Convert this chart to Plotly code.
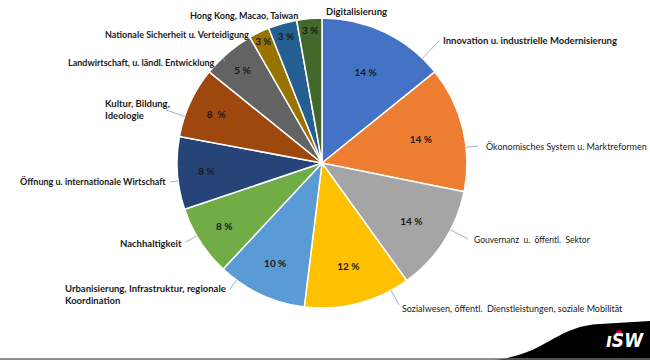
import math
import plotly.graph_objects as go

categories = [
    "Innovation u. industrielle Modernisierung",
    "Ökonomisches System u. Marktreformen",
    "Gouvernanz  u.  öffentl.  Sektor",
    "Sozialwesen, öffentl.  Dienstleistungen, soziale Mobilität",
    "Urbanisierung, Infrastruktur, regionale<br>Koordination",
    "Nachhaltigkeit",
    "Öffnung u. internationale Wirtschaft",
    "Kultur, Bildung,<br>Ideologie",
    "Landwirtschaft, u. ländl. Entwicklung",
    "Nationale Sicherheit u. Verteidigung",
    "Hong Kong, Macao, Taiwan",
    "Digitalisierung",
]
# slice sizes
shares = [14.2, 14.0, 11.9, 11.9, 10.0, 7.9, 8.1, 7.9, 5.9, 2.3, 3.2, 2.8]
# percentage labels as printed on the slices
pct_labels = ["14 %", "14 %", "14 %", "12 %", "10 %", "8 %", "8 %", "8  %", "5 %", "3 %", "3 %", "3 %"]

colors = ["#4472C4", "#ED7D31", "#A5A5A5", "#FFC000", "#5B9BD5", "#70AD47",
          "#264478", "#9E480E", "#636363", "#997300", "#255E91", "#43682B"]

W, H = 650, 360
CX, CY, R = 322, 163, 145

# label placement (pixels): x, y, xanchor, leader end x, leader end y, font size, weight
label_pos = [
    (441, 40, "left", 439, 41, 9.5, "bold"),
    (484, 146, "left", 478, 146, 9, "normal"),
    (472, 240, "left", 468, 239, 8.5, "normal"),
    (400, 308, "left", 399, 305, 9, "normal"),
    (63, 294, "left", 230, 289, 9.5, "bold"),
    (184, 243, "right", 186, 242, 9.5, "bold"),
    (168, 181, "right", 170, 182, 9, "bold"),
    (103, 109, "left", 166, 110, 9.5, "bold"),
    (217, 62, "right", 225, 61, 9, "bold"),
    (251, 34, "right", 258, 33, 9, "bold"),
    (244, 16, "center", 285, 22, 9, "bold"),
    (356, 11, "center", 316, 18, 9.5, "bold"),
]

def px(x):
    return x / W

def py(y):
    return 1 - y / H

fig = go.Figure(go.Pie(
    values=shares,
    labels=categories,
    text=pct_labels,
    texttemplate="%{text}",
    textposition="inside",
    insidetextorientation="horizontal",
    textfont=dict(family="Lato", size=10, color="#1a1a1a", weight="bold"),
    marker=dict(colors=colors, line=dict(color="white", width=1.5)),
    sort=False,
    direction="clockwise",
    rotation=0,
    hoverinfo="skip",
    showlegend=False,
    domain=dict(x=[px(CX - R), px(CX + R)], y=[py(CY + R), py(CY - R)]),
))

shapes = []
annotations = []
for name, (tx, ty, anc, lx, ly, fs, fw) in zip(categories, label_pos):
    dx, dy = lx - CX, ly - CY
    d = math.hypot(dx, dy)
    sx, sy = CX + R * dx / d, CY + R * dy / d
    shapes.append(dict(type="line", xref="paper", yref="paper",
                       x0=px(sx), y0=py(sy), x1=px(lx), y1=py(ly),
                       line=dict(color="#9DB3D6", width=1)))
    annotations.append(dict(text=name, x=px(tx), y=py(ty), xref="paper", yref="paper",
                            xanchor=anc, yanchor="middle", showarrow=False, align="left",
                            font=dict(family="Lato", size=fs, color="#1a1a1a", weight=fw)))

# logo swoosh
shapes.append(dict(type="path", xref="paper", yref="paper",
                   path=f"M {px(492)},{py(360)} C {px(545)},{py(356)} {px(555)},{py(326)} {px(600)},{py(324)} "
                        f"L {px(650)},{py(321)} L {px(650)},{py(360)} Z",
                   fillcolor="black", line=dict(width=0)))
shapes.append(dict(type="line", xref="paper", yref="paper", x0=0, x1=1, y0=py(359), y1=py(359),
                   line=dict(color="#6b6b6b", width=1.5)))
annotations.append(dict(text="<i>ıSW</i>", x=px(646), y=py(353), xref="paper", yref="paper",
                        xanchor="right", yanchor="bottom", showarrow=False,
                        font=dict(family="DejaVu Sans Condensed, DejaVu Sans", size=19,
                                  color="white", weight="bold")))
shapes.append(dict(type="circle", xref="paper", yref="paper", layer="above",
                   x0=px(616), x1=px(622), y0=py(336), y1=py(330),
                   fillcolor="#E3001B", line=dict(width=0)))

fig.update_layout(
    width=W, height=H,
    margin=dict(l=0, r=0, t=0, b=0),
    paper_bgcolor="white", plot_bgcolor="white",
    shapes=shapes, annotations=annotations,
)
fig.write_html("out.html", config={"displayModeBar": False},
               post_script="document.body.style.margin='0';document.body.style.overflow='hidden';")
